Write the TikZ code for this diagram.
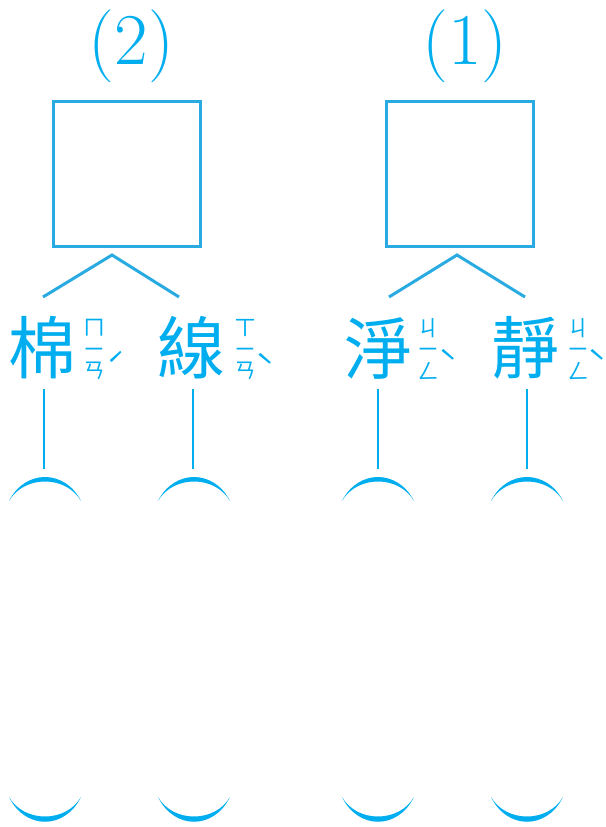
\documentclass[tikz,border=0pt]{standalone}
\usepackage{fontspec}
\newfontfamily\cjk{Noto Sans CJK TC}
\definecolor{boxblue}{HTML}{29ABE2}
\definecolor{txtblue}{HTML}{00AEEF}
\tikzset{
  hanzi/.style={font=\cjk\fontsize{68}{68}\selectfont, text=txtblue, inner sep=0pt},
  zhuyin/.style={font=\cjk\fontsize{22}{21.5}\selectfont, text=txtblue, inner sep=0pt, align=center},
  tone/.style={font=\cjk\fontsize{32}{32}\selectfont, text=txtblue, inner sep=0pt},
  numlabel/.style={font=\fontsize{73}{73}\selectfont, text=txtblue, inner sep=0pt, anchor=base},
  answerbox/.style={draw=boxblue, line width=3pt, minimum width=147pt, minimum height=145pt, inner sep=0pt},
  branch/.style={draw=boxblue, line width=3pt},
  stem/.style={draw=txtblue, line width=2.5pt},
}
\newcommand{\tonemark}[1]{\makebox[8pt][c]{#1}}
\begin{document}
\begin{tikzpicture}[x=1pt,y=-1pt]
\useasboundingbox (0,0) rectangle (605,827);
% labels
\node[numlabel] (lab2) at (131.5,64) {(2)};
\node[numlabel] (lab1) at (465,64) {(1)};
% boxes
\node[answerbox] (box2) at (127,174) {};
\node[answerbox] (box1) at (460,174) {};
% branch points
\coordinate (apex2) at (112,255);
\coordinate (end2a) at (43,297);
\coordinate (end2b) at (179,297);
\coordinate (apex1) at (457,255);
\coordinate (end1a) at (389,297);
\coordinate (end1b) at (525,297);
\draw[branch] (end2a) -- (apex2) -- (end2b);
\draw[branch] (end1a) -- (apex1) -- (end1b);
% characters
\node[hanzi] (mian) at (43,348) {棉};
\node[hanzi] (xian) at (191,348) {線};
\node[hanzi] (jing1) at (378,349) {淨};
\node[hanzi] (jing2) at (525,348) {靜};
% zhuyin
\node[zhuyin] (mzy) at (94,350) {ㄇ\\ㄧ\\ㄢ};
\node[tone] (mtn) at (116,365) {\tonemark{ˊ}};
\node[zhuyin] (xzy) at (245,350) {ㄒ\\ㄧ\\ㄢ};
\node[tone] (xtn) at (265,366) {\tonemark{ˋ}};
\node[zhuyin] (jzy) at (428,349) {ㄐ\\ㄧ\\ㄥ};
\node[tone] (jtn) at (448,362) {\tonemark{ˋ}};
\node[zhuyin] (kzy) at (578,349) {ㄐ\\ㄧ\\ㄥ};
\node[tone] (ktn) at (597,362) {\tonemark{ˋ}};
% stems
\foreach \n/\x in {a/44,b/193,c/378,d/527}{
  \coordinate (st\n) at (\x,389);
  \coordinate (sb\n) at (\x,469);
  \draw[stem] (st\n) -- (sb\n);
}
% brackets
\foreach \x in {45,194,378,527}{
  \fill[txtblue] (\x-36,501) .. controls (\x-20,469) and (\x+20,469) .. (\x+36,501)
     .. controls (\x+21,475) and (\x-21,475) .. (\x-36,501) -- cycle;
  \fill[txtblue] (\x-36,797) .. controls (\x-20,830) and (\x+20,830) .. (\x+36,797)
     .. controls (\x+21,823) and (\x-21,823) .. (\x-36,797) -- cycle;
}
\end{tikzpicture}
\end{document}
